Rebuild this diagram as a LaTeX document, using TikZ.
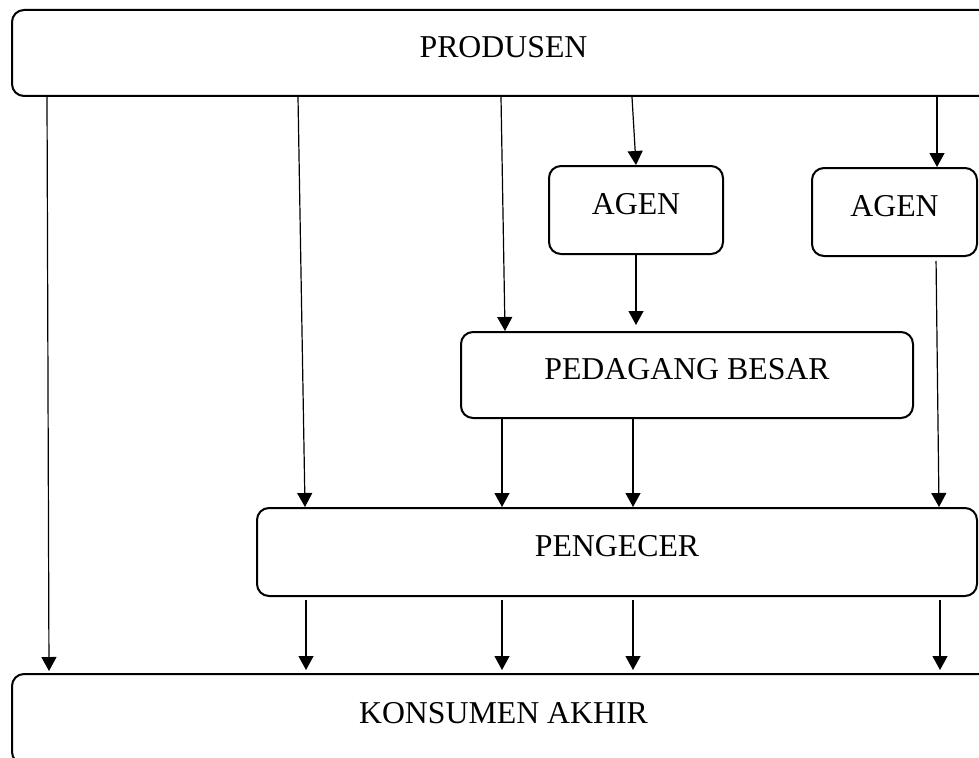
\documentclass[tikz,border=0pt]{standalone}
\usepackage{fontspec}
\setmainfont{Liberation Serif}
\usetikzlibrary{arrows.meta}
\begin{document}
\begin{tikzpicture}[x=1pt,y=-1pt,
  box/.style={draw, line width=2pt, rounded corners=12pt, inner sep=0pt,
    font=\fontsize{31.8}{36}\selectfont, text height=22pt, text depth=13pt},
  arr/.style={line width=1.2pt, -{Triangle[width=15pt,length=14pt]}}]
\useasboundingbox (0,0) rectangle (979,757);
\node[box, minimum width=983pt, minimum height=86pt] (prod) at (503.5,53) {PRODUSEN};
\node[box, minimum width=174pt, minimum height=88pt] (ag1) at (636,210) {AGEN};
\node[box, minimum width=165pt, minimum height=88pt] (ag2) at (894.5,212) {AGEN};
\node[box, minimum width=452pt, minimum height=86pt] (ped) at (687,375) {PEDAGANG BESAR};
\node[box, minimum width=720pt, minimum height=88pt] (peng) at (617,552) {PENGECER};
\node[box, minimum width=983pt, minimum height=90pt] (kons) at (503.5,719) {KONSUMEN AKHIR};
% from produsen
\draw[arr, shorten >=2pt] ([xshift=36pt]prod.south west) -- ([xshift=38pt]kons.north west);
\draw[arr] ([xshift=287pt]prod.south west) -- ([xshift=49pt]peng.north west);
\draw[arr] ([xshift=490pt]prod.south west) -- ([xshift=45pt]ped.north west);
\draw[arr] ([xshift=621pt]prod.south west) -- (ag1.north);
\draw[arr] ([xshift=926pt]prod.south west) -- ([xshift=126pt]ag2.north west);
% from agen
\draw[arr, shorten >=6pt] (ag1.south) -- (ag1.south |- ped.north);
\draw[arr, shorten <=4pt] ([xshift=125pt]ag2.south west) -- ([xshift=683pt]peng.north west);
% from pedagang besar
\draw[arr] ([xshift=42pt]ped.south west) -- ([xshift=246pt]peng.north west);
\draw[arr] ([xshift=173pt]ped.south west) -- ([xshift=377pt]peng.north west);
% from pengecer
\draw[arr, shorten <=3pt, shorten >=3pt] ([xshift=50pt]peng.south west) -- ([xshift=295pt]kons.north west);
\draw[arr, shorten <=3pt, shorten >=3pt] ([xshift=246pt]peng.south west) -- ([xshift=491pt]kons.north west);
\draw[arr, shorten <=3pt, shorten >=3pt] ([xshift=377pt]peng.south west) -- ([xshift=622pt]kons.north west);
\draw[arr, shorten <=3pt, shorten >=3pt] ([xshift=684pt]peng.south west) -- ([xshift=929pt]kons.north west);
\end{tikzpicture}
\end{document}
